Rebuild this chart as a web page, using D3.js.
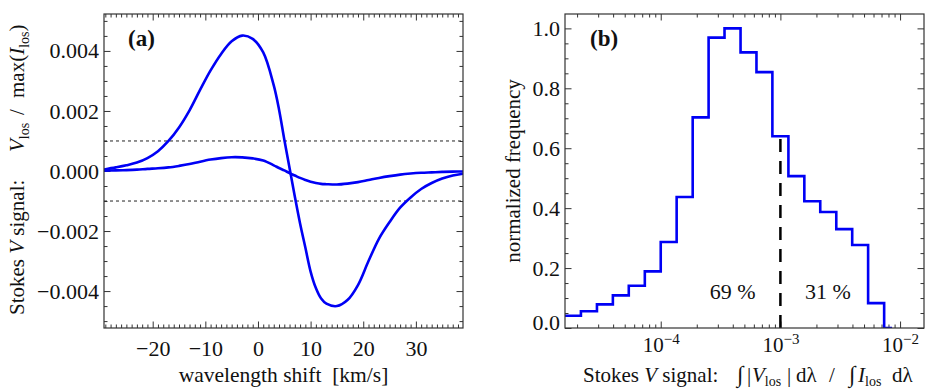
<!DOCTYPE html>
<html><head><meta charset="utf-8">
<script src="https://cdn.jsdelivr.net/npm/d3@7"></script>
<style>
body{margin:0;background:#fff}
svg{display:block}
text{font-family:"Liberation Serif","Times New Roman",serif;fill:#111}
</style>
</head><body>
<svg id="c" width="928" height="389"></svg>
<script>
// ---------- Panel (a) data ----------
const waveShift = [-29.3,-27,-25,-23,-21,-19,-17,-15,-13,-11,-9,-7,-5,-3,-1,1,3,4,5,6,7,8,9,10,11,12,13,15,17,19,21,23,25,27,29,31,33,35,37,39];
// Stokes V / max(I), in units of 1e-3
const strongV = [0.05,0.12,0.19,0.28,0.43,0.66,1.00,1.45,2.02,2.70,3.35,3.90,4.32,4.51,4.40,3.95,2.85,2.05,1.05,0.10,-0.85,-1.75,-2.55,-3.35,-3.90,-4.25,-4.42,-4.50,-4.30,-3.80,-3.00,-2.25,-1.70,-1.22,-0.88,-0.60,-0.40,-0.25,-0.15,-0.09];
const weakV   = [0.01,0.02,0.03,0.045,0.07,0.09,0.12,0.17,0.23,0.31,0.38,0.43,0.46,0.455,0.42,0.35,0.19,0.10,0.02,-0.07,-0.15,-0.23,-0.30,-0.36,-0.40,-0.43,-0.44,-0.45,-0.42,-0.37,-0.30,-0.23,-0.17,-0.12,-0.085,-0.06,-0.045,-0.03,-0.02,-0.015];
const thresholds = [0.001,-0.001];
const xTicksA = [-20,-10,0,10,20,30];
const yTicksA = [-0.004,-0.002,0,0.002,0.004];

// ---------- Panel (b) data ----------
const binEdgesLog = [-4.8,-4.667,-4.533,-4.4,-4.267,-4.133,-4.0,-3.867,-3.733,-3.6,-3.467,-3.333,-3.2,-3.067,-2.933,-2.8,-2.667,-2.533,-2.4,-2.267,-2.133,-2.067];
const binFreq = [0.041,0.056,0.079,0.109,0.141,0.189,0.287,0.437,0.703,0.969,1.0,0.92,0.854,0.64,0.507,0.423,0.387,0.33,0.277,0.083,0];
const yTicksB = [0,0.2,0.4,0.6,0.8,1.0];
const xTicksB = [1e-4,1e-3,1e-2];
const splitValue = 1e-3;
const pctLabels = [{text:"69 %", v:4.0e-4},{text:"31 %", v:2.5e-3}];

// ---------- Layout ----------
const svg = d3.select("#c");
const blue = "#0000f5", axisCol = "#333";
const A = {l:104, r:463, t:14, b:328};
const B = {l:565, r:924, t:14, b:328};
const FS = 21, TFS = 22;

const xA = d3.scaleLinear().domain([-29.25,38.95]).range([A.l,A.r]);
const yA = d3.scaleLinear().domain([-0.00523,0.00523]).range([A.b,A.t]);
const xB = d3.scaleLog().domain([Math.pow(10,-4.8),Math.pow(10,-1.8)]).range([B.l,B.r]);
const yB = d3.scaleLinear().domain([0,1.048]).range([B.b,B.t]);

function clean(g){
  g.attr("font-size",null).attr("font-family",null);
  g.select(".domain").remove();
  g.selectAll("line").attr("stroke",axisCol).attr("stroke-width",1);
  g.selectAll("text").attr("font-size",TFS).attr("fill","#111");
  return g;
}
function ticks(P, xs, ys, xMaj, xMin, yMaj, yMin){
  clean(svg.append("g").attr("transform",`translate(0,${P.b})`).call(d3.axisBottom(xs).tickValues(xMin).tickSize(-3.5).tickFormat("")));
  clean(svg.append("g").attr("transform",`translate(0,${P.t})`).call(d3.axisTop(xs).tickValues(xMin).tickSize(-3.5).tickFormat("")));
  clean(svg.append("g").attr("transform",`translate(0,${P.t})`).call(d3.axisTop(xs).tickValues(xMaj).tickSize(-6.5).tickFormat("")));
  clean(svg.append("g").attr("transform",`translate(${P.l},0)`).call(d3.axisLeft(ys).tickValues(yMin).tickSize(-3.5).tickFormat("")));
  clean(svg.append("g").attr("transform",`translate(${P.r},0)`).call(d3.axisRight(ys).tickValues(yMin).tickSize(-3.5).tickFormat("")));
  clean(svg.append("g").attr("transform",`translate(${P.r},0)`).call(d3.axisRight(ys).tickValues(yMaj).tickSize(-6.5).tickFormat("")));
}

svg.append("clipPath").attr("id","clipA").append("rect").attr("x",A.l).attr("y",A.t).attr("width",A.r-A.l).attr("height",A.b-A.t);
svg.append("clipPath").attr("id","clipB").append("rect").attr("x",B.l).attr("y",B.t).attr("width",B.r-B.l).attr("height",B.b-B.t);

// ----- Panel (a) -----
const minorXA = d3.range(-29,39).filter(v=>v%10!==0);
const minorYA = d3.range(-10,11).map(i=>i*0.0005).filter(v=>Math.abs(Math.round(v*1e4))%20!==0);
ticks(A,xA,yA,xTicksA,minorXA,yTicksA,minorYA);

clean(svg.append("g").attr("transform",`translate(0,${A.b})`)
  .call(d3.axisBottom(xA).tickValues(xTicksA).tickSize(-6.5).tickPadding(12).tickFormat(d3.format("d"))));
clean(svg.append("g").attr("transform",`translate(${A.l},0)`)
  .call(d3.axisLeft(yA).tickValues(yTicksA).tickSize(-6.5).tickPadding(5).tickFormat(d3.format(".3f"))));

svg.append("g").selectAll("line").data(thresholds).join("line")
  .attr("x1",A.l).attr("x2",A.r).attr("y1",d=>yA(d)).attr("y2",d=>yA(d))
  .attr("stroke","#222").attr("stroke-width",1).attr("stroke-dasharray","3,3");

const lineA = d3.line().x((d,i)=>xA(waveShift[i])).y(d=>yA(d*1e-3)).curve(d3.curveCatmullRom.alpha(0.5));
const gc = svg.append("g").attr("clip-path","url(#clipA)");
[strongV, weakV].forEach(s=>{
  gc.append("path").attr("d",lineA(s)).attr("fill","none").attr("stroke",blue).attr("stroke-width",2.6);
});

svg.append("rect").attr("x",A.l).attr("y",A.t).attr("width",A.r-A.l).attr("height",A.b-A.t)
  .attr("fill","none").attr("stroke",axisCol).attr("stroke-width",1.2);

svg.append("text").attr("x",128).attr("y",46).attr("font-size",23).attr("font-weight","bold").text("(a)");

svg.append("text").attr("x",(A.l+A.r)/2).attr("y",382).attr("text-anchor","middle").attr("font-size",21.5)
  .style("white-space","pre").text("wavelength shift  [km/s]");

// left y title (rotated; x positions measured along the text direction)
{
  const t = svg.append("text").attr("transform","translate(24,315) rotate(-90)").attr("font-size",FS).style("white-space","pre");
  t.append("tspan").attr("x",0).text("Stokes ");
  t.append("tspan").attr("font-style","italic").text("V");
  t.append("tspan").text(" signal:");
  t.append("tspan").attr("x",163).attr("font-style","italic").text("V");
  t.append("tspan").attr("font-size",14).attr("dy",5).text("los");
  t.append("tspan").attr("dy",-5).attr("x",200).text("/");
  t.append("tspan").attr("x",217).text("max(");
  t.append("tspan").attr("font-style","italic").text("I");
  t.append("tspan").attr("font-size",14).attr("dy",5).text("los");
  t.append("tspan").attr("dy",-5).text(")");
}

// ----- Panel (b) -----
const minorXB = [];
[-5,-4,-3,-2].forEach(e=>{ for(let m=2;m<=9;m++){ const v=m*Math.pow(10,e); if(v>xB.domain()[0] && v<xB.domain()[1]) minorXB.push(v);} });
const minorYB = d3.range(0,22).map(i=>+(i*0.05).toFixed(2)).filter(v=>Math.round(v*100)%20!==0 && v<1.048);
ticks(B,xB,yB,xTicksB,minorXB,yTicksB,minorYB);

const gxB = clean(svg.append("g").attr("transform",`translate(0,${B.b})`)
  .call(d3.axisBottom(xB).tickValues(xTicksB).tickSize(-6.5).tickFormat("")));
gxB.selectAll(".tick").each(function(d){
  const t = d3.select(this).append("text").attr("y",352-B.b)
    .attr("text-anchor","middle").attr("font-size",21).attr("fill","#111");
  t.append("tspan").text("10");
  t.append("tspan").attr("font-size",15).attr("dy",-8).text("−"+Math.round(-Math.log10(d)));
});
const gyB = clean(svg.append("g").attr("transform",`translate(${B.l},0)`)
  .call(d3.axisLeft(yB).tickValues(yTicksB).tickSize(-6.5).tickPadding(5).tickFormat(d3.format(".1f"))));
gyB.selectAll(".tick text").filter(d=>d===0).attr("dy","0.05em");

// histogram
const histPts = binFreq.map((f,i)=>[Math.pow(10,binEdgesLog[i]),f]);
histPts.push([Math.pow(10,binEdgesLog[binEdgesLog.length-1]), binFreq[binFreq.length-1]]);
const lineB = d3.line().x(d=>xB(d[0])).y(d=>yB(d[1])).curve(d3.curveStepAfter);
svg.append("path").attr("clip-path","url(#clipB)").attr("d",lineB(histPts))
  .attr("fill","none").attr("stroke",blue).attr("stroke-width",2.6);

// split line at 1e-3
const splitBin = d3.bisectRight(binEdgesLog, Math.log10(splitValue)) - 1;
svg.append("line").attr("x1",xB(splitValue)).attr("x2",xB(splitValue))
  .attr("y1",yB(0)).attr("y2",yB(binFreq[splitBin]))
  .attr("stroke","#000").attr("stroke-width",2.5).attr("stroke-dasharray","13,9");

svg.append("g").selectAll("text").data(pctLabels).join("text")
  .attr("x",d=>xB(d.v)).attr("y",299).attr("text-anchor","middle").attr("font-size",22)
  .style("white-space","pre").text(d=>d.text);

svg.append("rect").attr("x",B.l).attr("y",B.t).attr("width",B.r-B.l).attr("height",B.b-B.t)
  .attr("fill","none").attr("stroke",axisCol).attr("stroke-width",1.2);

svg.append("text").attr("x",590).attr("y",46).attr("font-size",23).attr("font-weight","bold").text("(b)");

svg.append("text").attr("transform","translate(520,171) rotate(-90)").attr("text-anchor","middle")
  .attr("font-size",FS).text("normalized frequency");

{
  const t = svg.append("text").attr("x",583).attr("y",382).attr("font-size",FS).style("white-space","pre");
  t.append("tspan").text("Stokes ");
  t.append("tspan").attr("font-style","italic").text("V");
  t.append("tspan").text(" signal:");
  t.append("tspan").attr("x",737).attr("font-size",23).text("∫");
  t.append("tspan").attr("x",747).text("|");
  t.append("tspan").attr("x",752).attr("font-style","italic").text("V");
  t.append("tspan").attr("font-size",14).attr("dy",4).text("los");
  t.append("tspan").attr("dy",-4).attr("x",787).text("|");
  t.append("tspan").attr("x",796).text("dλ");
  t.append("tspan").attr("x",829).text("/");
  t.append("tspan").attr("x",849).attr("font-size",23).text("∫");
  t.append("tspan").attr("x",858).attr("font-style","italic").text("I");
  t.append("tspan").attr("font-size",14).attr("dy",4).text("los");
  t.append("tspan").attr("dy",-4).attr("x",892).text("dλ");
}
</script>
</body></html>
